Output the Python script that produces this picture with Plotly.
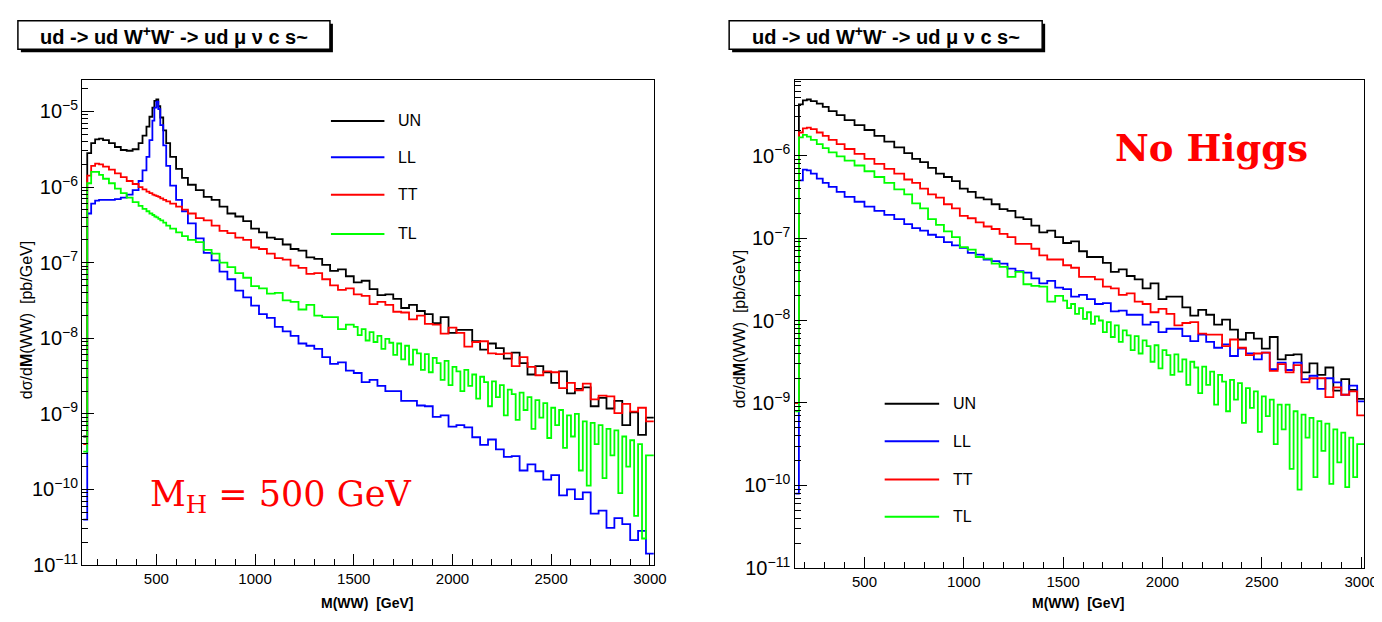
import plotly.graph_objects as go

# ---------------- data (bin lower edges in GeV, values as log10 of dσ/dM in pb/GeV) -------------
left_low_starts = [130, 150, 170, 190, 210, 230, 260, 290, 320, 350, 380, 410, 430, 450, 465,
                   480, 490, 500, 510, 520, 535, 550, 570, 600, 630, 660]
right_low_starts = [152, 170, 190, 210, 230, 260, 290, 320, 360, 400, 450, 500, 550, 600, 650]
left_bin_starts = left_low_starts + list(range(700, 3000, 40))
right_bin_starts = right_low_starts + list(range(700, 3000, 40))
# TL uses finer bins above 1500 GeV
left_tl_bin_starts = left_low_starts + list(range(700, 1500, 40)) + list(range(1500, 3000, 20))
right_tl_bin_starts = right_low_starts + list(range(700, 1500, 40)) + list(range(1500, 3000, 20))
last_edge = 3020

left_un_log10 = [-9.3, -5.55, -5.42, -5.37, -5.36, -5.38, -5.42, -5.47, -5.51, -5.52, -5.50, -5.42, -5.32,
                 -5.20, -5.07, -4.95, -4.86, -4.84, -4.93, -5.08, -5.25, -5.42, -5.60, -5.76, -5.88, -5.97,
                 -6.04, -6.13, -6.17, -6.26, -6.35, -6.39, -6.45, -6.55, -6.60, -6.67,
                 -6.69, -6.76, -6.82, -6.84, -6.93, -6.95, -7.03, -7.11, -7.09, -7.18,
                 -7.26, -7.24, -7.35, -7.43, -7.42, -7.48, -7.60, -7.56, -7.64, -7.68,
                 -7.80, -7.72, -7.93, -7.89, -7.89, -8.04, -8.15, -8.07, -8.13, -8.27,
                 -8.19, -8.33, -8.48, -8.37, -8.45, -8.59, -8.44, -8.73, -8.67, -8.65,
                 -8.90, -8.79, -8.93, -8.83, -9.15, -8.98, -9.28, -9.05]
left_ll_log10 = [-10.4, -6.35, -6.22, -6.18, -6.17, -6.17, -6.17, -6.16, -6.14, -6.10, -6.04, -5.92, -5.78,
                 -5.60, -5.38, -5.12, -4.95, -4.87, -4.97, -5.18, -5.45, -5.72, -5.98, -6.17, -6.32, -6.48,
                 -6.68, -6.87, -6.97, -7.12, -7.22, -7.37, -7.46, -7.57, -7.68, -7.73,
                 -7.85, -7.91, -7.97, -8.07, -8.10, -8.14, -8.25, -8.34, -8.32, -8.43,
                 -8.46, -8.58, -8.55, -8.63, -8.70, -8.70, -8.83, -8.83, -8.89, -8.90,
                 -9.04, -9.02, -9.17, -9.15, -9.18, -9.31, -9.41, -9.34, -9.47, -9.57,
                 -9.56, -9.75, -9.67, -9.76, -9.87, -9.81, -10.08, -10.00, -10.13, -10.04,
                 -10.32, -10.28, -10.51, -10.38, -10.46, -10.67, -10.55, -10.85]
left_tt_log10 = [-9.4, -5.85, -5.72, -5.69, -5.70, -5.73, -5.77, -5.82, -5.87, -5.92, -5.96, -6.00, -6.03,
                 -6.06, -6.08, -6.10, -6.11, -6.12, -6.13, -6.15, -6.17, -6.19, -6.22, -6.26, -6.30, -6.35,
                 -6.41, -6.44, -6.51, -6.58, -6.61, -6.67, -6.70, -6.80, -6.82, -6.88,
                 -6.94, -6.96, -7.04, -7.07, -7.15, -7.14, -7.22, -7.30, -7.36, -7.34,
                 -7.42, -7.44, -7.55, -7.52, -7.56, -7.65, -7.66, -7.75, -7.70, -7.81,
                 -7.82, -7.94, -7.86, -7.93, -8.11, -8.05, -8.04, -8.20, -8.21, -8.20,
                 -8.37, -8.25, -8.38, -8.49, -8.44, -8.45, -8.66, -8.59, -8.69, -8.60,
                 -8.81, -8.76, -8.77, -8.99, -8.87, -8.97, -8.92, -9.10]
left_tl_log10 = [-9.5, -5.95, -5.80, -5.80, -5.84, -5.89, -5.95, -6.02, -6.08, -6.14, -6.20, -6.25, -6.29,
                 -6.32, -6.35, -6.37, -6.39, -6.40, -6.42, -6.44, -6.47, -6.51, -6.55, -6.60, -6.65, -6.70,
                 -6.73, -6.83, -6.88, -7.00, -7.06, -7.14, -7.20, -7.31, -7.34, -7.41,
                 -7.40, -7.50, -7.52, -7.62, -7.56, -7.70, -7.72, -7.72, -7.88, -7.82,
                 -7.85, -7.96, -7.88, -8.03, -7.92, -8.05, -7.97, -8.14, -8.01, -8.06,
                 -8.22, -8.07, -8.28, -8.10, -8.35, -8.15, -8.20, -8.42, -8.21, -8.45,
                 -8.26, -8.33, -8.55, -8.30, -8.62, -8.38, -8.44, -8.70, -8.42, -8.63,
                 -8.48, -8.80, -8.51, -8.58, -8.90, -8.57, -8.78, -8.62, -9.02, -8.68,
                 -8.74, -9.08, -8.72, -8.95, -8.78, -9.20, -8.82, -9.05, -8.86, -9.32,
                 -8.92, -9.15, -8.95, -9.45, -9.02, -9.30, -9.00, -9.75, -9.10, -9.95,
                 -9.12, -9.40, -9.15, -9.85, -9.20, -9.55, -9.22, -10.05, -9.30, -9.70,
                 -9.35, -10.35, -9.40, -10.65, -9.55]

right_un_log10 = [-9.0, -5.38, -5.33, -5.32, -5.34, -5.37, -5.41, -5.46, -5.51, -5.57, -5.63, -5.69, -5.76,
                  -5.83, -5.90,
                  -5.97, -6.04, -6.08, -6.15, -6.22, -6.26, -6.31, -6.40, -6.44, -6.51,
                  -6.53, -6.59, -6.65, -6.67, -6.75, -6.77, -6.85, -6.93, -6.91, -6.99,
                  -7.06, -7.04, -7.16, -7.23, -7.23, -7.30, -7.41, -7.38, -7.46, -7.50,
                  -7.61, -7.55, -7.74, -7.71, -7.71, -7.84, -7.94, -7.87, -7.93, -8.05,
                  -7.99, -8.11, -8.23, -8.15, -8.22, -8.34, -8.20, -8.47, -8.42, -8.41,
                  -8.63, -8.52, -8.66, -8.57, -8.85, -8.71, -8.84, -8.95]
right_ll_log10 = [-10.1, -6.30, -6.17, -6.18, -6.22, -6.28, -6.33, -6.38, -6.44, -6.50, -6.56, -6.62, -6.67,
                  -6.72, -6.77,
                  -6.83, -6.88, -6.91, -6.96, -6.99, -7.05, -7.09, -7.12, -7.18, -7.20,
                  -7.26, -7.28, -7.31, -7.37, -7.40, -7.42, -7.49, -7.55, -7.52, -7.60,
                  -7.62, -7.71, -7.69, -7.74, -7.80, -7.79, -7.89, -7.88, -7.93, -7.93,
                  -8.05, -8.02, -8.14, -8.10, -8.10, -8.19, -8.25, -8.17, -8.26, -8.33,
                  -8.29, -8.43, -8.34, -8.40, -8.47, -8.39, -8.59, -8.51, -8.60, -8.51,
                  -8.71, -8.67, -8.83, -8.70, -8.75, -8.90, -8.79, -8.98]
right_tt_log10 = [-9.0, -5.72, -5.67, -5.66, -5.68, -5.72, -5.76, -5.81, -5.86, -5.92, -5.98, -6.04, -6.10,
                  -6.16, -6.22,
                  -6.29, -6.33, -6.40, -6.47, -6.51, -6.59, -6.64, -6.73, -6.76, -6.81,
                  -6.86, -6.89, -6.95, -6.99, -7.07, -7.07, -7.13, -7.21, -7.26, -7.26,
                  -7.33, -7.36, -7.47, -7.47, -7.50, -7.59, -7.61, -7.69, -7.67, -7.77,
                  -7.80, -7.90, -7.86, -7.92, -8.06, -8.03, -8.02, -8.16, -8.17, -8.17,
                  -8.31, -8.23, -8.33, -8.42, -8.40, -8.39, -8.61, -8.53, -8.63, -8.54,
                  -8.75, -8.70, -8.70, -8.93, -8.81, -8.90, -8.86, -9.15]
right_tl_log10 = [-9.1, -5.78, -5.75, -5.77, -5.81, -5.86, -5.91, -5.96, -6.01, -6.06, -6.12, -6.19, -6.26,
                  -6.33, -6.41,
                  -6.47, -6.58, -6.64, -6.77, -6.84, -6.92, -6.99, -7.11, -7.14, -7.23,
                  -7.25, -7.31, -7.35, -7.47, -7.41, -7.56, -7.58, -7.59, -7.77, -7.70,
                  -7.76, -7.85, -7.80, -7.92, -7.85, -7.98, -7.90, -8.04, -7.95, -8.00,
                  -8.14, -8.02, -8.20, -8.06, -8.26, -8.12, -8.18, -8.36, -8.19, -8.40,
                  -8.24, -8.31, -8.50, -8.30, -8.58, -8.36, -8.42, -8.66, -8.41, -8.62,
                  -8.47, -8.78, -8.50, -8.57, -8.88, -8.56, -8.78, -8.62, -9.02, -8.66,
                  -8.74, -9.10, -8.72, -8.96, -8.76, -9.24, -8.82, -9.06, -8.86, -9.35,
                  -8.92, -9.16, -8.96, -9.50, -9.02, -9.32, -9.02, -9.80, -9.10, -10.05,
                  -9.14, -9.42, -9.18, -9.90, -9.22, -9.58, -9.25, -9.98, -9.32, -9.72,
                  -9.36, -10.02, -9.42, -9.90, -9.50]

series_names = ["UN", "LL", "TT", "TL"]
series_colors = ["#000000", "#0000ff", "#ff0000", "#00ff00"]
title_text = "ud -> ud W<sup>+</sup>W<sup>-</sup> -> ud \u03bc \u03bd c s~"
y_title = "d\u03c3/d<b>M</b>(WW)  [pb/GeV]"
x_title = "M(WW)  [GeV]"

W, H = 1382, 622


def px(x):
    return x / W


def py(y):
    return 1 - y / H


fig = go.Figure()


def add_hist(starts, logs, color, name, xa, ya):
    xs = list(starts) + [last_edge]
    ys = [10 ** v for v in logs] + [10 ** logs[-1]]
    fig.add_trace(go.Scatter(x=xs, y=ys, mode="lines", line=dict(shape="hv", color=color, width=1.8),
                             name=name, showlegend=False, xaxis=xa, yaxis=ya, hoverinfo="skip"))


left_sets = [(left_bin_starts, left_un_log10), (left_bin_starts, left_ll_log10),
             (left_bin_starts, left_tt_log10), (left_tl_bin_starts, left_tl_log10)]
right_sets = [(right_bin_starts, right_un_log10), (right_bin_starts, right_ll_log10),
              (right_bin_starts, right_tt_log10), (right_tl_bin_starts, right_tl_log10)]
for name, col, (lx, lv), (rx, rv) in zip(series_names, series_colors, left_sets, right_sets):
    add_hist(lx, lv, col, name, "x", "y")
    add_hist(rx, rv, col, name, "x2", "y2")

tickfont_x = dict(family="Liberation Sans, Arial, sans-serif", size=15, color="black")
tickfont_y = dict(family="Liberation Sans, Arial, sans-serif", size=16, color="black")


def xaxis_style(domain, rng):
    return dict(domain=domain, range=rng, showline=True, linecolor="black", linewidth=1.2, mirror=True,
                ticks="inside", ticklen=11, tickwidth=1.2, tickcolor="black", dtick=500, tick0=0,
                showgrid=False, zeroline=False, tickfont=tickfont_x,
                minor=dict(ticks="inside", ticklen=6, tickwidth=1, tickcolor="black", dtick=100, showgrid=False))


def yaxis_style(domain, rng):
    return dict(domain=domain, type="log", range=rng, showline=True, linecolor="black", linewidth=1.2,
                mirror=True, ticks="inside", ticklen=12, tickwidth=1.2, tickcolor="black", dtick=1,
                exponentformat="power", showexponent="all", showgrid=False, zeroline=False,
                tickfont=tickfont_y,
                minor=dict(ticks="inside", ticklen=6, tickwidth=1, tickcolor="black", dtick="D1",
                           showgrid=False))


fig.update_layout(
    width=W, height=H, margin=dict(l=0, r=0, t=0, b=0),
    paper_bgcolor="white", plot_bgcolor="white", showlegend=False,
    xaxis=dict(anchor="y", **xaxis_style([px(75), px(652)], [125, 3020])),
    yaxis=dict(anchor="x", **yaxis_style([py(567), py(73)], [-11, -4.58])),
    xaxis2=dict(anchor="y2", **xaxis_style([px(794), px(1369)], [148, 3015])),
    yaxis2=dict(anchor="x2", **yaxis_style([py(570), py(73)], [-11, -5.08])),
)

shapes = []
annotations = []

# title boxes with drop shadow
for (x0, x1) in [(10, 325), (728, 1044)]:
    shapes.append(dict(type="rect", xref="paper", yref="paper", x0=px(x0 + 3), x1=px(x1 + 3),
                       y0=py(45), y1=py(16), fillcolor="black", line=dict(width=0), layer="above"))
    shapes.append(dict(type="rect", xref="paper", yref="paper", x0=px(x0), x1=px(x1),
                       y0=py(42), y1=py(13), fillcolor="white", line=dict(color="black", width=1.5),
                       layer="above"))
    annotations.append(dict(xref="paper", yref="paper", x=px((x0 + x1) / 2), y=py(28),
                            text="<b>" + title_text + "</b>",
                            showarrow=False, xanchor="center", yanchor="middle",
                            font=dict(family="Liberation Sans, Arial, sans-serif", size=20, color="black")))

# axis titles
for xc, yc in [(19, 318), (738, 327)]:
    annotations.append(dict(xref="paper", yref="paper", x=px(xc), y=py(yc), text=y_title, textangle=-90,
                            showarrow=False, xanchor="center", yanchor="middle",
                            font=dict(family="Liberation Sans, Arial, sans-serif", size=16, color="black")))
for xc in [363, 1081]:
    annotations.append(dict(xref="paper", yref="paper", x=px(xc), y=py(606), text="<b>" + x_title + "</b>",
                            showarrow=False, xanchor="center", yanchor="middle",
                            font=dict(family="Liberation Sans, Arial, sans-serif", size=14, color="black")))

# legends
legend_specs = [(326, 380, 392, [115, 152, 190, 230]), (885, 940, 952, [403, 441, 480, 518])]
for (lx0, lx1, tx, rows) in legend_specs:
    for name, col, ry in zip(series_names, series_colors, rows):
        shapes.append(dict(type="line", xref="paper", yref="paper", x0=px(lx0), x1=px(lx1), y0=py(ry), y1=py(ry),
                           line=dict(color=col, width=2)))
        annotations.append(dict(xref="paper", yref="paper", x=px(tx), y=py(ry), text=name, showarrow=False,
                                xanchor="left", yanchor="middle",
                                font=dict(family="Liberation Sans, Arial, sans-serif", size=16, color="black")))

# physics labels
annotations.append(dict(xref="paper", yref="paper", x=px(275), y=py(497),
                        text="M<sub>H</sub> = 500 GeV", showarrow=False, xanchor="center", yanchor="middle",
                        font=dict(family="DejaVu Serif, serif", size=35, color="#ff0000")))
annotations.append(dict(xref="paper", yref="paper", x=px(1215), y=py(143),
                        text="<b>No Higgs</b>", showarrow=False, xanchor="center", yanchor="middle",
                        font=dict(family="DejaVu Serif, serif", size=37, color="#ff0000")))

fig.update_layout(shapes=shapes, annotations=annotations)
fig.write_html("out.html")
